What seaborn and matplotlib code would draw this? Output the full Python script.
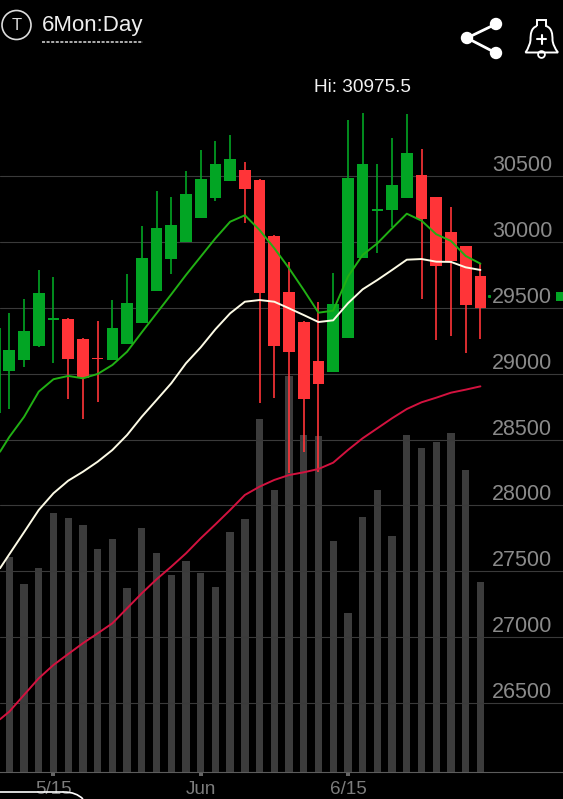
from __future__ import annotations

import matplotlib

matplotlib.use("Agg")

import matplotlib.pyplot as plt
import numpy as np
import seaborn as sns
from matplotlib.patches import Circle, PathPatch
from matplotlib.path import Path

WIDTH, HEIGHT = 563, 799

# daily candles, oldest first
highs = [29460, 29567, 29787, 29734, 29423, 29271, 29402, 29559, 29756, 30123, 30386,
         30343, 30540, 30697, 30768, 30811, 30608, 30480, 30049, 29850, 29400, 29546,
         29764, 30925, 30975.5, 30591, 30788, 30970, 30705, 30343, 30267, 29971, 29838]
opens = [29021, 29104, 29210, 29411, 29417, 29266, 29108, 29104, 29225, 29385, 29627,
         29870, 29999, 30181, 30333, 30460, 30543, 30472, 30042, 29622, 29395, 29099,
         29013, 29269, 29878, 30238, 30240, 30335, 30505, 30338, 30077, 29967, 29741]
closes = [29180, 29324, 29612, 29419, 29112, 28967, 29100, 29347, 29536, 29878, 30108,
          30130, 30363, 30477, 30591, 30627, 30404, 29612, 29212, 29165, 28808, 28924,
          29529, 30485, 30593, 30242, 30434, 30674, 30171, 29819, 29853, 29521, 29496]
lows = [28732, 29051, 29203, 29081, 28808, 28656, 28788, 29104, 29225, 29385, 29627,
        29756, 29999, 30181, 30310, 30460, 30146, 28778, 28816, 28247, 28406, 28257,
        29013, 29269, 29878, 29914, 30115, 30335, 29569, 29256, 29288, 29157, 29263]
volumes = [21500, 18800, 20400, 25900, 25400, 24700, 22300, 23300, 18400, 24400, 21900,
           19700, 21100, 19900, 18500, 24000, 25300, 35300, 28200, 39600, 33700, 33600,
           23100, 15900, 25500, 28200, 23600, 33700, 32400, 33000, 33900, 30200, 19000]

# moving averages start at the left screen edge, just before the first full candle
ma_days = [-0.63] + list(range(33))
ma_green = [28408, 28520, 28672, 28864, 28958, 28983, 28965, 28998, 29066, 29167, 29314, 29458,
            29602, 29749, 29888, 30027, 30153, 30202, 30090, 29952, 29800, 29635, 29463, 29478,
            29736, 29901, 29989, 30103, 30214, 30161, 30058, 30007, 29893, 29835]
ma_white = [27524, 27630, 27797, 27966, 28093, 28188, 28256, 28332, 28421, 28535, 28674, 28800,
            28927, 29079, 29200, 29337, 29458, 29546, 29559, 29546, 29496, 29445, 29392, 29405,
            29534, 29640, 29711, 29787, 29865, 29870, 29850, 29848, 29807, 29787]
ma_red = [26378, 26436, 26563, 26689, 26790, 26873, 26955, 27030, 27106, 27220, 27334, 27440,
          27536, 27637, 27751, 27857, 27966, 28080, 28143, 28194, 28231, 28252, 28277, 28325,
          28421, 28510, 28586, 28662, 28732, 28783, 28818, 28856, 28879, 28904]

# wick of the candle cut off by the left edge
stub_day = -0.61
stub_range = [28702, 29347]

price_ticks = [26500, 27000, 27500, 28000, 28500, 29000, 29500, 30000, 30500]
date_ticks = [3, 13, 23]
date_labels = ["5/15", "Jun", "6/15"]

GREEN = "#02a524"
RED = "#ff3438"
BAR_GREY = "#3c3c3c"
GRID = "#3a3a3a"
TICK_TEXT = "#8a8a8a"


def draw_candles(ax: plt.Axes) -> None:
    days = np.arange(len(opens))
    o, c = np.array(opens), np.array(closes)
    colors = [GREEN if up else RED for up in c >= o]

    ax.vlines(days, lows, highs, colors=colors, linewidth=1.2, zorder=3)
    ax.vlines(stub_day, *stub_range, colors=GREEN, linewidth=1.2, zorder=3)
    # dojis still need a visible body
    heights = np.where(np.abs(c - o) < 12, 8, c - o)
    ax.bar(days, heights, bottom=o, width=0.79, color=colors, linewidth=0, zorder=3)


def draw_chrome(fig: plt.Figure) -> None:
    # app header and icons, in screen pixels
    ov = fig.add_axes([0, 0, 1, 1], zorder=10)
    ov.set_xlim(0, WIDTH)
    ov.set_ylim(HEIGHT, 0)
    ov.axis("off")
    ov.patch.set_alpha(0)

    ov.add_patch(Circle((16.5, 25), 14.5, fill=False, edgecolor="#dddddd", linewidth=1.2))
    ov.text(16.5, 25.5, "T", color="#dddddd", fontsize=12, ha="center", va="center")
    ov.text(42, 25, "6Mon:Day", color="#eeeeee", fontsize=16, ha="left", va="center")
    ov.plot([42, 143], [41.5, 41.5], color="#dddddd", linewidth=1.1, linestyle=(0, (2, 1)))
    ov.text(314, 87, "Hi: 30975.5", color="#f2f2f2", fontsize=13.7, ha="left", va="center")

    # share icon
    ov.plot([496, 467, 496], [24, 38, 53], color="white", linewidth=2, solid_joinstyle="miter")
    for cx, cy in [(467, 38), (496, 24), (496, 53)]:
        ov.add_patch(Circle((cx, cy), 6.2, color="white", linewidth=0))

    # bell icon
    bell = Path(
        [(537, 26), (537, 20), (546, 20), (546, 26),
         (552, 28), (552.5, 34), (552.5, 40),
         (553, 46), (558, 52.5),
         (525.5, 52.5),
         (530, 46), (530.5, 40),
         (530.5, 34), (531, 28), (537, 26)],
        [Path.MOVETO, Path.LINETO, Path.LINETO, Path.LINETO,
         Path.CURVE4, Path.CURVE4, Path.CURVE4,
         Path.CURVE3, Path.CURVE3,
         Path.LINETO,
         Path.CURVE3, Path.CURVE3,
         Path.CURVE4, Path.CURVE4, Path.CURVE4],
    )
    ov.add_patch(PathPatch(bell, fill=False, edgecolor="white", linewidth=1.4))
    ov.add_patch(Circle((541.5, 54.5), 3.4, fill=False, edgecolor="white", linewidth=1.3, zorder=1))
    ov.plot([537, 546], [39, 39], color="white", linewidth=1.5)
    ov.plot([541.5, 541.5], [34.5, 43.5], color="white", linewidth=1.5)

    # last price pointer on the right edge
    ov.fill_between([556, 563], 292, 301, color=GREEN, linewidth=0)
    ov.plot([488.5], [296], marker="s", markersize=1.2, color=GREEN)

    # top of the rounded panel peeking in at the bottom
    panel = Path([(0, 792), (64, 792), (76, 792), (83, 799)],
                 [Path.MOVETO, Path.LINETO, Path.CURVE3, Path.CURVE3])
    ov.add_patch(PathPatch(panel, fill=False, edgecolor="white", linewidth=1.2))


def main() -> None:
    sns.set_theme(style="dark", rc={"figure.facecolor": "black", "axes.facecolor": "black"})
    plt.rcParams["font.family"] = ["Liberation Sans", "DejaVu Sans"]

    fig = plt.figure(figsize=(WIDTH / 100, HEIGHT / 100), dpi=100)
    ax_vol = fig.add_axes([0, 27 / HEIGHT, 1, 772 / HEIGHT])

    days = np.arange(len(volumes))
    sns.barplot(x=days, y=volumes, native_scale=True, width=0.5, color=BAR_GREY,
                saturation=1, linewidth=0, ax=ax_vol)
    ax_vol.set_ylim(0, 77200)
    ax_vol.set_yticks([])
    ax_vol.set_ylabel("")
    ax_vol.set_xlabel("")
    ax_vol.set_xticks(date_ticks, date_labels)
    ax_vol.tick_params(axis="x", direction="out", length=3, width=2.9, color="#666666",
                       labelcolor="#7c7c7c", labelsize=13.6, pad=3.5, bottom=True)
    for name, spine in ax_vol.spines.items():
        spine.set_visible(name == "bottom")
    ax_vol.spines["bottom"].set_color("#5c5c5c")
    ax_vol.spines["bottom"].set_linewidth(0.8)

    ax_price = ax_vol.twinx()
    ax_price.set_ylim(25978, 31835.3)
    ax_price.set_yticks(price_ticks, [str(t) for t in price_ticks])
    ax_price.tick_params(axis="y", right=False, length=0, pad=-51, labelcolor=TICK_TEXT,
                         labelsize=15.5)
    for lab in ax_price.get_yticklabels():
        lab.set_verticalalignment("bottom")
    ax_price.grid(True, axis="y", color=GRID, linewidth=0.8)
    ax_price.set_axisbelow(True)
    for spine in ax_price.spines.values():
        spine.set_visible(False)

    draw_candles(ax_price)

    for values, color in [(ma_red, "#d3123f"), (ma_white, "#fdfbe6"), (ma_green, "#21b014")]:
        sns.lineplot(x=ma_days, y=values, color=color, linewidth=1.4, sort=False,
                     errorbar=None, ax=ax_price, zorder=4)
    ax_price.set_ylabel("")
    ax_price.set_xlabel("")

    ax_vol.set_xlim(-0.632, 37.61)
    ax_price.set_xlim(-0.632, 37.61)

    draw_chrome(fig)

    fig.savefig("out.png", dpi=100, facecolor="black")


if __name__ == "__main__":
    main()
